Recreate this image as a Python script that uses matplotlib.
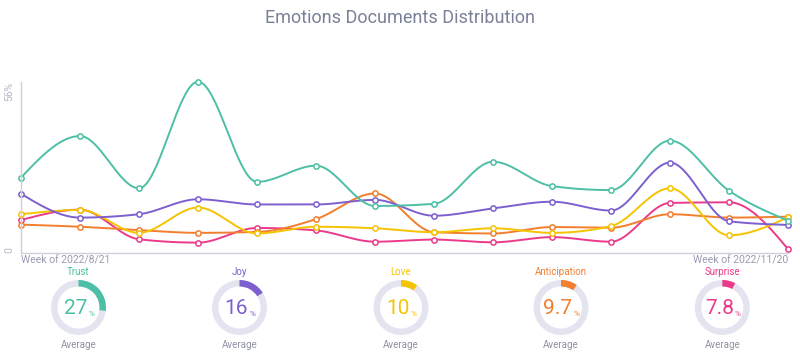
import matplotlib
matplotlib.use('Agg')
import matplotlib.pyplot as plt
from matplotlib.patches import Wedge
import numpy as np

plt.rcParams['font.family'] = ['Roboto', 'DejaVu Sans']

# weekly share of documents per emotion (%)
weeks = np.arange(14)
trust = [24.6, 38.2, 21.1, 56.0, 23.2, 28.5, 15.3, 16.0, 29.8, 21.8, 20.5, 36.7, 20.3, 10.5]
joy = [19.3, 11.5, 12.6, 17.5, 15.8, 15.8, 17.3, 12.1, 14.5, 16.7, 13.8, 29.5, 10.3, 9.1]
love = [12.6, 14.0, 6.5, 14.8, 6.3, 8.5, 8.0, 6.7, 8.0, 6.5, 8.7, 21.1, 5.7, 11.6]
anticipation = [9.2, 8.5, 7.4, 6.5, 6.8, 11.0, 19.4, 6.7, 6.3, 8.4, 8.2, 12.6, 11.5, 11.8]
surprise = [10.7, 14.1, 4.4, 3.3, 8.1, 7.3, 3.6, 4.3, 3.4, 5.1, 3.6, 16.3, 16.5, 1.2]

names = ['Trust', 'Joy', 'Love', 'Anticipation', 'Surprise']
averages = [27, 16, 10, 9.7, 7.8]
avg_labels = ['27', '16', '10', '9.7', '7.8']
colors = ['#4dbfa6', '#7d5fcf', '#f5c400', '#f27e2e', '#eb3a8a']
series = [trust, joy, love, anticipation, surprise]

first_week = 'Week of 2022/8/21'
last_week = 'Week of 2022/11/20'
y_max = 56


def monotone(x, y, n=40):
    # monotone cubic curve through the points (like d3 curveMonotoneX)
    x = np.asarray(x, float)
    y = np.asarray(y, float)
    h = np.diff(x)
    d = np.diff(y) / h
    m = np.zeros(len(y))
    for i in range(1, len(y) - 1):
        if d[i - 1] * d[i] <= 0:
            m[i] = 0
        else:
            p = (d[i - 1] * h[i] + d[i] * h[i - 1]) / (h[i - 1] + h[i])
            m[i] = np.sign(d[i]) * min(2 * abs(d[i - 1]), 2 * abs(d[i]), abs(p))
    m[0] = (3 * d[0] - m[1]) / 2
    m[-1] = (3 * d[-1] - m[-2]) / 2
    xs, ys = [], []
    for i in range(len(h)):
        t = np.linspace(0, 1, n)
        h00 = 2 * t**3 - 3 * t**2 + 1
        h10 = t**3 - 2 * t**2 + t
        h01 = -2 * t**3 + 3 * t**2
        h11 = t**3 - t**2
        xs.append(x[i] + t * h[i])
        ys.append(h00 * y[i] + h10 * h[i] * m[i] + h01 * y[i + 1] + h11 * h[i] * m[i + 1])
    return np.concatenate(xs), np.concatenate(ys)


W, H = 800, 355
fig = plt.figure(figsize=(W / 100, H / 100), dpi=100)
fig.patch.set_facecolor('white')

fig.text(0.5, 1 - 18 / H, 'Emotions Documents Distribution', ha='center', va='center',
         fontsize=13, color='#7b8099')

ax = fig.add_axes([21 / W, (H - 252.7) / H, (788 - 21) / W, (252.7 - 81.7) / H])
ax.set_xlim(0, 13)
ax.set_ylim(0, y_max)
for s in ['top', 'right']:
    ax.spines[s].set_visible(False)
for s in ['left', 'bottom']:
    ax.spines[s].set_color('#cfd0e0')
    ax.spines[s].set_linewidth(1)
ax.set_xticks([])
ax.set_yticks([])

for vals, c in zip(series[::-1], colors[::-1]):
    sx, sy = monotone(weeks, vals)
    ax.plot(sx, sy, color=c, lw=1.4, clip_on=False, solid_capstyle='round')
    ax.plot(weeks, vals, 'o', ms=3.8, mfc='white', mec=c, mew=1.1, clip_on=False)

lbl_color = '#b5b6c6'
ax.text(-0.12, y_max, '56%', rotation=90, ha='right', va='top', fontsize=7.5,
        color=lbl_color, transform=ax.transData)
ax.text(-0.12, 0, '0', rotation=90, ha='right', va='bottom', fontsize=7.5,
        color=lbl_color, transform=ax.transData)
ax.text(0, -1.0, first_week, ha='left', va='top', fontsize=7.5, color='#9a9cb0')
ax.text(13, -1.0, last_week, ha='right', va='top', fontsize=7.5, color='#9a9cb0')

# donuts with average shares
centers = [78.5, 239.5, 401, 561, 722.3]
cy = 307.5
R = 27.5
for name, avg, lab, c, cx in zip(names, averages, avg_labels, colors, centers):
    dax = fig.add_axes([(cx - 36) / W, (H - cy - 42) / H, 72 / W, 84 / H])
    dax.set_xlim(-36, 36)
    dax.set_ylim(-42, 42)
    dax.axis('off')
    dax.add_patch(Wedge((0, 0), R, 0, 360, width=6.5, facecolor='#e4e4f0', edgecolor='none'))
    dax.add_patch(Wedge((0, 0), R, 90 - 360 * avg / 100, 90, width=6.5, facecolor=c,
                        edgecolor='none'))
    t = dax.text(-3, -1.5, lab, ha='center', va='center', fontsize=15, color=c)
    dax.annotate('%', xy=(1, 0), xycoords=t, xytext=(0.8, 1.2), textcoords='offset points',
                 ha='left', va='bottom', fontsize=6, color=c)
    dax.text(0, cy - 272.3, name, ha='center', va='center', fontsize=7, color=c)
    dax.text(0, cy - 345, 'Average', ha='center', va='center', fontsize=7, color='#8e90a3')

fig.savefig('out.png', dpi=100)
